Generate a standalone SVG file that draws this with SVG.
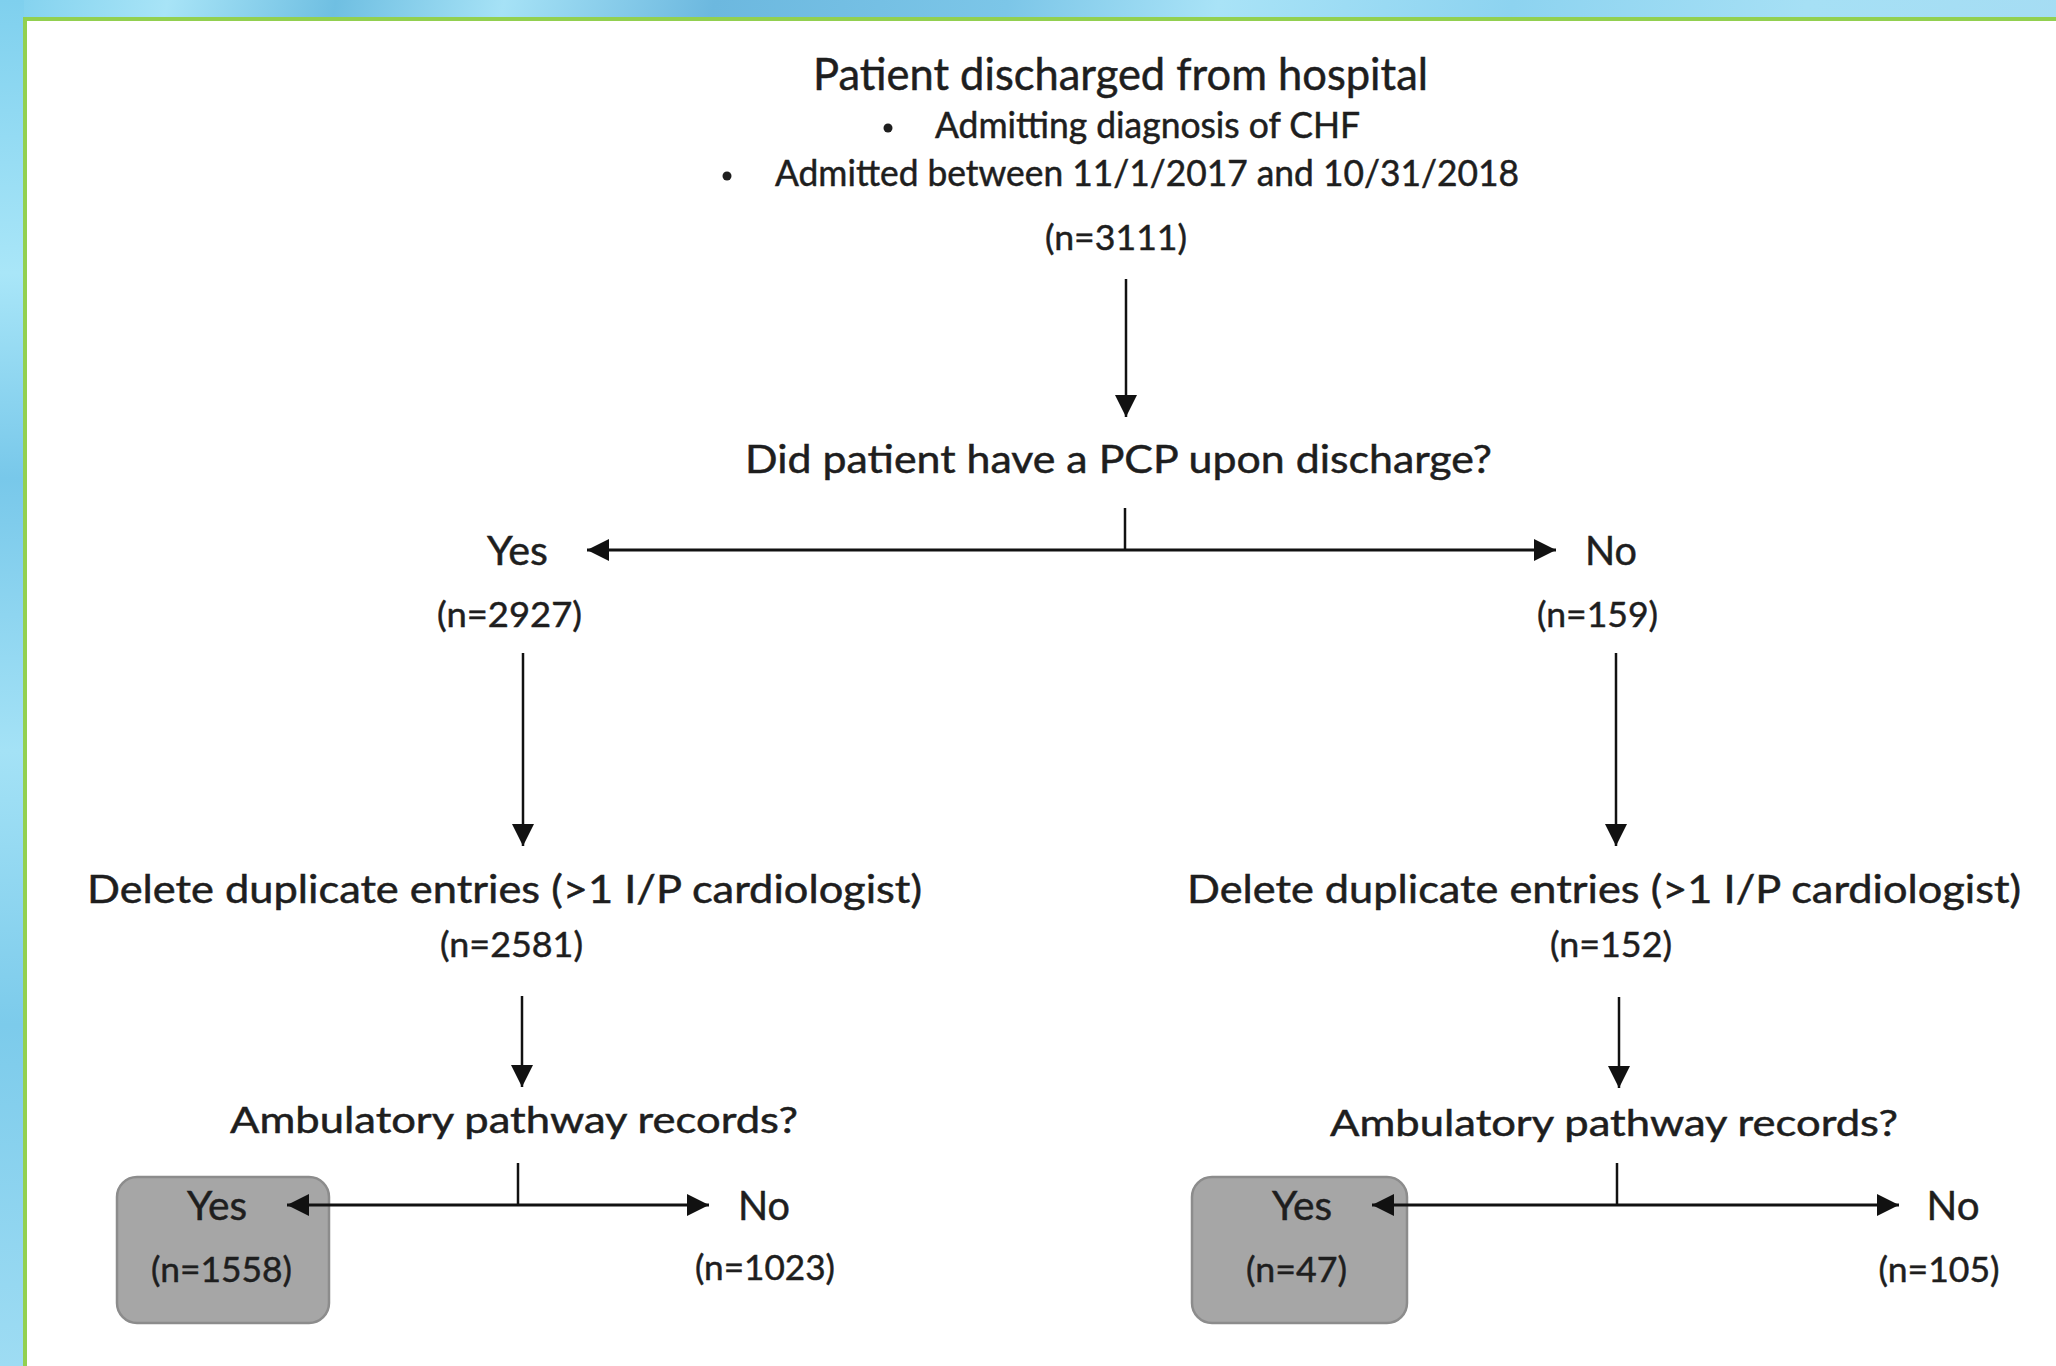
<svg xmlns="http://www.w3.org/2000/svg" width="2056" height="1366" viewBox="0 0 2056 1366">
  <defs>
    <linearGradient id="bg" x1="0" y1="0" x2="1" y2="0.15">
      <stop offset="0" stop-color="#7fd0ee"/>
      <stop offset="0.08" stop-color="#a8e4f7"/>
      <stop offset="0.16" stop-color="#6fbfe2"/>
      <stop offset="0.24" stop-color="#a6e2f6"/>
      <stop offset="0.34" stop-color="#6cb8df"/>
      <stop offset="0.48" stop-color="#7cc6e8"/>
      <stop offset="0.58" stop-color="#a9e3f7"/>
      <stop offset="0.72" stop-color="#8dd3f0"/>
      <stop offset="0.86" stop-color="#a6e0f5"/>
      <stop offset="1" stop-color="#a5dcf3"/>
    </linearGradient>
    <linearGradient id="bgl" x1="0" y1="0" x2="0" y2="1">
      <stop offset="0" stop-color="#7fd0ee"/>
      <stop offset="0.2" stop-color="#a9e6f8"/>
      <stop offset="0.35" stop-color="#78c8ea"/>
      <stop offset="0.55" stop-color="#a4e2f6"/>
      <stop offset="0.75" stop-color="#7ccbeb"/>
      <stop offset="1" stop-color="#9edcf3"/>
    </linearGradient>
    <marker id="ah" viewBox="0 0 22 22" refX="22" refY="11" markerWidth="22" markerHeight="22" markerUnits="userSpaceOnUse" orient="auto-start-reverse">
      <path d="M0,0 L22,11 L0,22 Z" fill="#111"/>
    </marker>
    <style>
      text { font-family: Lato, "Open Sans", "Liberation Sans", sans-serif; fill: #1e1e1e; stroke: #1e1e1e; stroke-width: 0.5; }
      .c { text-anchor: middle; }
      .t1 { font-size: 45px; }
      .b { font-size: 36px; }
      .n { font-size: 35px; }
      .q { font-size: 39px; }
      .yn { font-size: 41px; }
      .d { font-size: 38px; }
      .a { font-size: 37px; }
      .ln { stroke: #111; stroke-width: 2.5; fill: none; }
      .hl { stroke: #111; stroke-width: 3; fill: none; }
      .box { fill: #a6a6a6; stroke: #8c8c8c; stroke-width: 2.5; }
    </style>
  </defs>

  <rect x="0" y="0" width="2056" height="1366" fill="url(#bg)"/>
  <rect x="0" y="0" width="24" height="1366" fill="url(#bgl)"/>
  <rect x="25" y="19" width="2060" height="1380" fill="#ffffff" stroke="#92d050" stroke-width="4"/>

  <g id="connectors">
    <line class="ln" x1="1126" y1="279" x2="1126" y2="417" marker-end="url(#ah)"/>
    <line class="ln" x1="1125" y1="508" x2="1125" y2="550"/>
    <line class="hl" x1="587" y1="550" x2="1556" y2="550" marker-start="url(#ah)" marker-end="url(#ah)"/>
    <line class="ln" x1="523" y1="653" x2="523" y2="846" marker-end="url(#ah)"/>
    <line class="ln" x1="1616" y1="653" x2="1616" y2="846" marker-end="url(#ah)"/>
    <line class="ln" x1="522" y1="996" x2="522" y2="1087" marker-end="url(#ah)"/>
    <line class="ln" x1="1619" y1="997" x2="1619" y2="1088" marker-end="url(#ah)"/>
    <line class="ln" x1="518" y1="1163" x2="518" y2="1205"/>
    <line class="ln" x1="1617" y1="1163" x2="1617" y2="1205"/>
  </g>

  <g id="start">
    <text class="t1 c" x="1120.5" y="90" textLength="615" lengthAdjust="spacingAndGlyphs">Patient discharged from hospital</text>
    <circle cx="888" cy="128" r="4.5" fill="#1e1e1e"/>
    <text class="b" x="935" y="138" textLength="425" lengthAdjust="spacingAndGlyphs">Admitting diagnosis of CHF</text>
    <circle cx="727" cy="176" r="4.5" fill="#1e1e1e"/>
    <text class="b" x="775" y="186" textLength="744" lengthAdjust="spacingAndGlyphs">Admitted between 11/1/2017 and 10/31/2018</text>
    <text class="n c" x="1116" y="250" textLength="142" lengthAdjust="spacingAndGlyphs">(n=3111)</text>
  </g>

  <g id="pcp-question">
    <text class="q c" x="1118.5" y="473" textLength="747" lengthAdjust="spacingAndGlyphs">Did patient have a PCP upon discharge?</text>
  </g>

  <g id="pcp-yes">
    <text class="yn c" x="517.5" y="565" textLength="61" lengthAdjust="spacingAndGlyphs">Yes</text>
    <text class="n c" x="509.5" y="627" textLength="145" lengthAdjust="spacingAndGlyphs">(n=2927)</text>
  </g>

  <g id="pcp-no">
    <text class="yn c" x="1611" y="565" textLength="52" lengthAdjust="spacingAndGlyphs">No</text>
    <text class="n c" x="1597.5" y="627" textLength="121" lengthAdjust="spacingAndGlyphs">(n=159)</text>
  </g>

  <g id="dedup-left">
    <text class="d c" x="504.5" y="903" textLength="835" lengthAdjust="spacingAndGlyphs">Delete duplicate entries (&gt;1 I/P cardiologist)</text>
    <text class="n c" x="511.5" y="957" textLength="143" lengthAdjust="spacingAndGlyphs">(n=2581)</text>
  </g>

  <g id="dedup-right">
    <text class="d c" x="1604" y="903" textLength="834" lengthAdjust="spacingAndGlyphs">Delete duplicate entries (&gt;1 I/P cardiologist)</text>
    <text class="n c" x="1611" y="957" textLength="122" lengthAdjust="spacingAndGlyphs">(n=152)</text>
  </g>

  <g id="amb-left">
    <text class="a c" x="514" y="1133" textLength="568" lengthAdjust="spacingAndGlyphs">Ambulatory pathway records?</text>
  </g>

  <g id="amb-right">
    <text class="a c" x="1614" y="1136" textLength="568" lengthAdjust="spacingAndGlyphs">Ambulatory pathway records?</text>
  </g>

  <g id="amb-left-yes">
    <rect class="box" x="117" y="1177" width="212" height="146" rx="20" ry="20"/>
    <text class="yn c" x="217" y="1220" textLength="60" lengthAdjust="spacingAndGlyphs">Yes</text>
    <text class="n c" x="221.5" y="1282" textLength="141" lengthAdjust="spacingAndGlyphs">(n=1558)</text>
  </g>

  <g id="amb-left-no">
    <text class="yn c" x="764" y="1220" textLength="52" lengthAdjust="spacingAndGlyphs">No</text>
    <text class="n c" x="765" y="1280" textLength="140" lengthAdjust="spacingAndGlyphs">(n=1023)</text>
  </g>

  <g id="amb-right-yes">
    <rect class="box" x="1192" y="1177" width="215" height="146" rx="20" ry="20"/>
    <text class="yn c" x="1302" y="1220" textLength="60" lengthAdjust="spacingAndGlyphs">Yes</text>
    <text class="n c" x="1296.5" y="1282" textLength="101" lengthAdjust="spacingAndGlyphs">(n=47)</text>
  </g>

  <g id="amb-right-no">
    <text class="yn c" x="1953" y="1220" textLength="53" lengthAdjust="spacingAndGlyphs">No</text>
    <text class="n c" x="1939" y="1282" textLength="121" lengthAdjust="spacingAndGlyphs">(n=105)</text>
  </g>

  <g id="branch-connectors">
    <line class="hl" x1="287" y1="1205" x2="709" y2="1205" marker-start="url(#ah)" marker-end="url(#ah)"/>
    <line class="hl" x1="1372" y1="1205" x2="1899" y2="1205" marker-start="url(#ah)" marker-end="url(#ah)"/>
  </g>
</svg>
